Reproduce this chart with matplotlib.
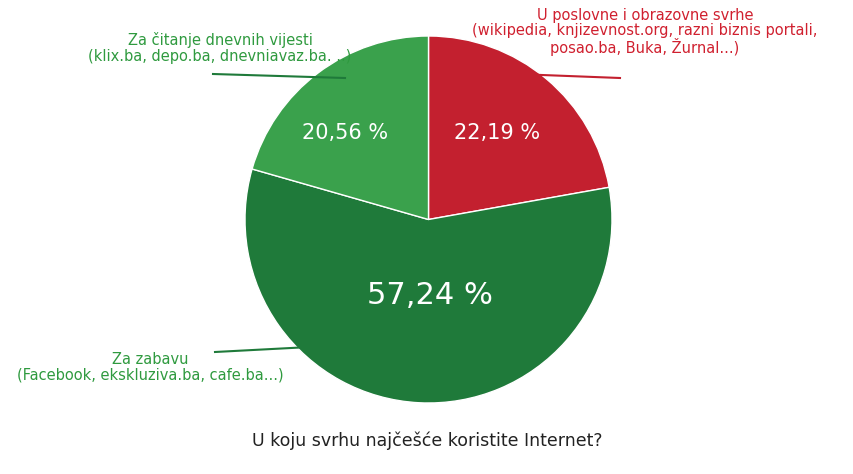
import matplotlib
matplotlib.use("Agg")
import matplotlib.pyplot as plt
from matplotlib.lines import Line2D

labels = ["U poslovne i obrazovne svrhe\n(wikipedia, knjizevnost.org, razni biznis portali,\nposao.ba, Buka, Žurnal...)",
          "Za zabavu\n(Facebook, ekskluziva.ba, cafe.ba...)",
          "Za čitanje dnevnih vijesti\n(klix.ba, depo.ba, dnevniavaz.ba. ..)"]
values = [22.19, 57.24, 20.56]
pct_text = ["22,19 %", "57,24 %", "20,56 %"]
colors = ["#c3202f", "#1f7a3a", "#3aa14c"]
title = "U koju svrhu najčešće koristite Internet?"

W, H = 854, 474
fig = plt.figure(figsize=(W/100, H/100), dpi=100)
ax = fig.add_axes([245/W, (H-403)/H, 367/W, 367/H])
wedges, _ = ax.pie(values, colors=colors, startangle=90, counterclock=False,
                   wedgeprops=dict(edgecolor="white", linewidth=1))
ax.set_xlim(-1, 1)
ax.set_ylim(-1, 1)
ax.set_aspect("equal")

def fx(x): return x/W
def fy(y): return 1 - y/H

font = "DejaVu Sans"
fig.text(fx(497), fy(133), pct_text[0], color="white", fontsize=15, ha="center", va="center", family=font)
fig.text(fx(430), fy(296), pct_text[1], color="white", fontsize=22, ha="center", va="center", family=font)
fig.text(fx(345), fy(133), pct_text[2], color="white", fontsize=15, ha="center", va="center", family=font)

fig.text(fx(645), fy(32), labels[0], color="#d0202f", fontsize=10.5, ha="center", va="center", family=font, linespacing=1.0)
fig.text(fx(220), fy(48), labels[2], color="#2f9a3f", fontsize=10.5, ha="center", va="center", family=font, linespacing=1.0)
fig.text(fx(150), fy(367), labels[1], color="#2f9a3f", fontsize=10.5, ha="center", va="center", family=font, linespacing=1.0)

fig.add_artist(Line2D([fx(490), fx(620)], [fy(73), fy(78)], color="#c3202f", lw=1.5))
fig.add_artist(Line2D([fx(213), fx(345)], [fy(74), fy(78)], color="#1f7a3a", lw=1.5))
fig.add_artist(Line2D([fx(215), fx(310)], [fy(352), fy(347)], color="#1f7a3a", lw=1.5))

fig.text(fx(427), fy(441), title, color="#222222", fontsize=12.5, ha="center", va="center", family=font)
fig.savefig("out.png", dpi=100)
